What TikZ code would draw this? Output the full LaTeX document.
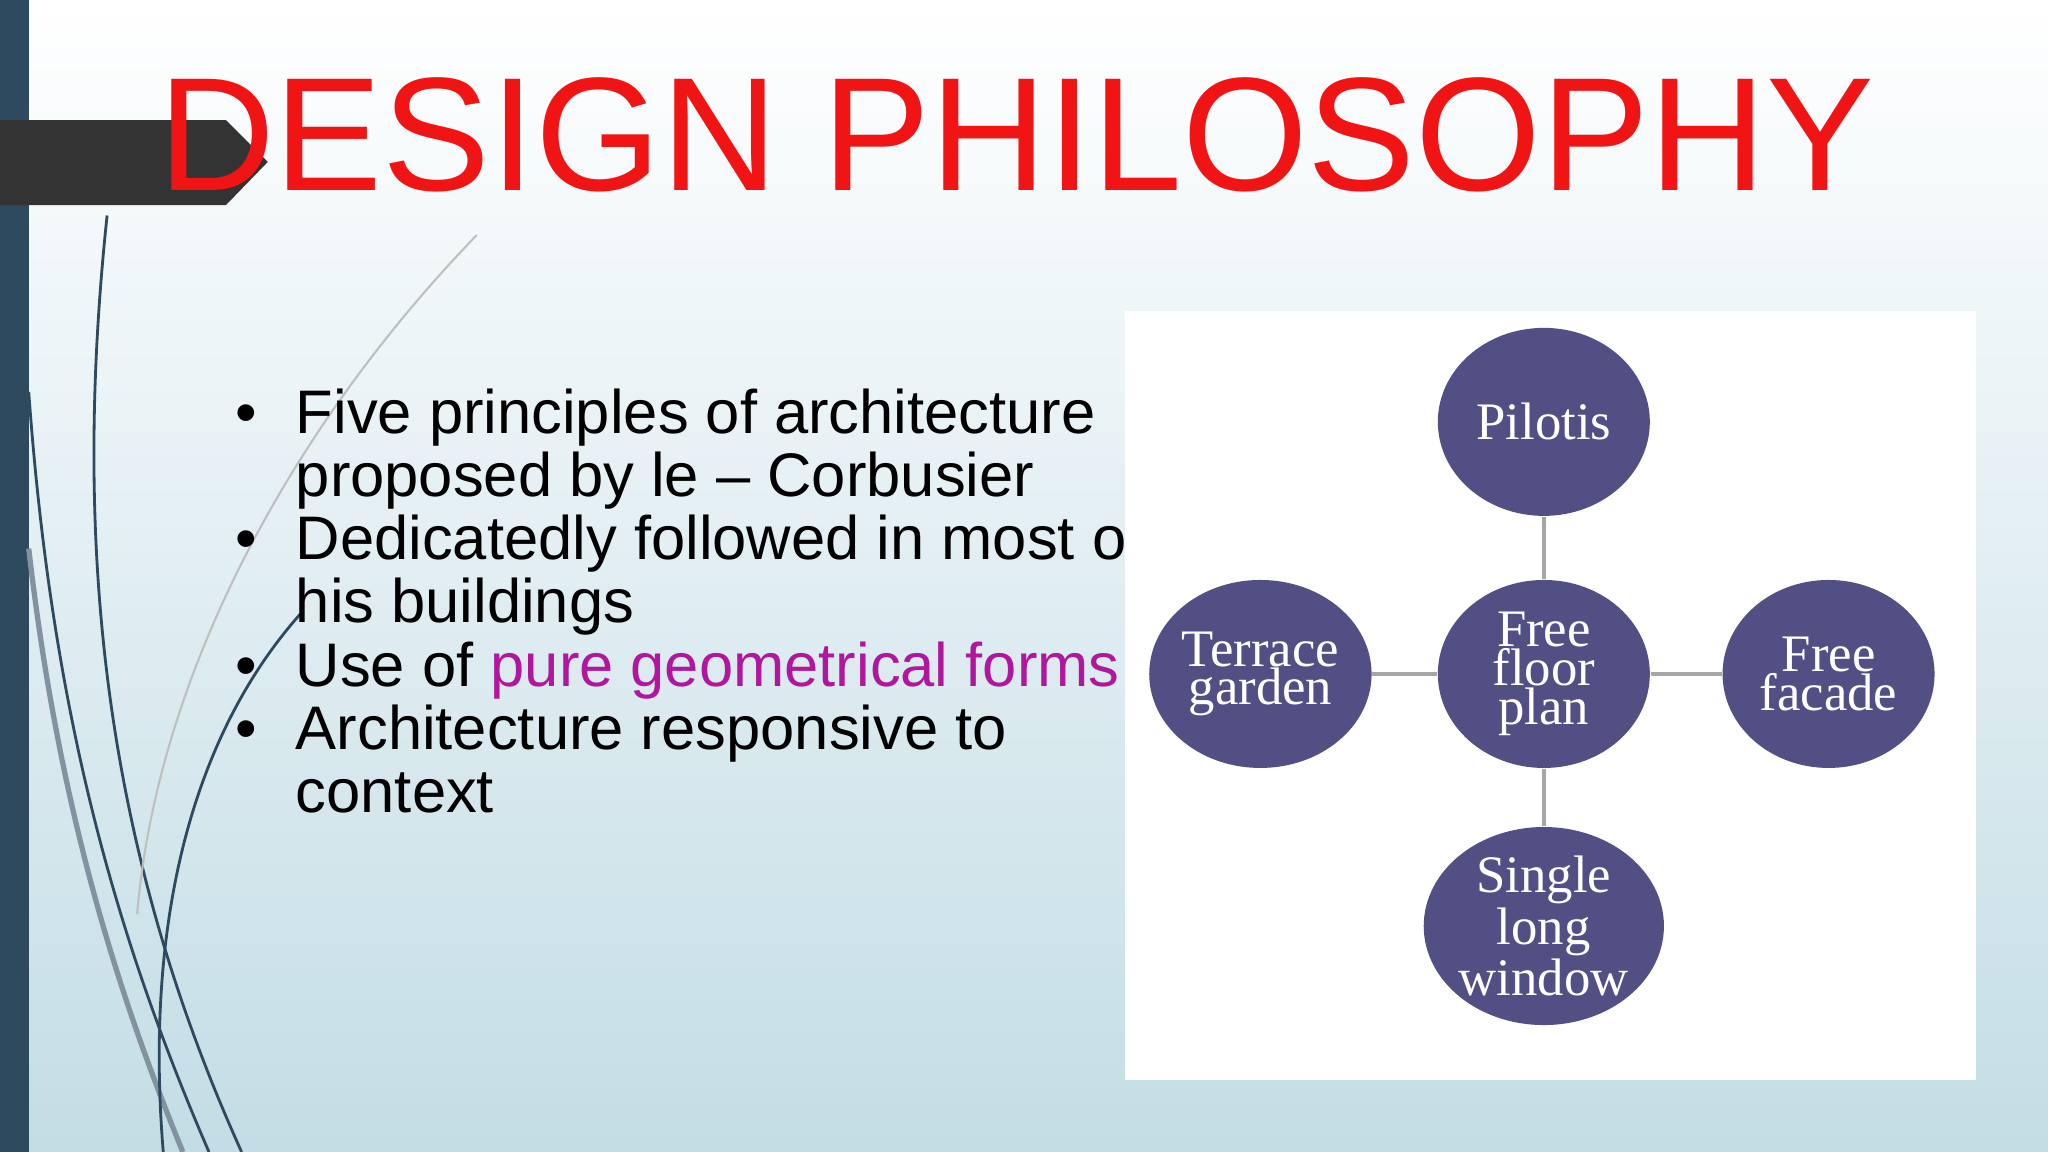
\documentclass[tikz,border=0pt]{standalone}
\usepackage{fontspec}
\setmainfont{Liberation Sans}
\newfontfamily\circfont{Liberation Serif}
\usetikzlibrary{positioning,shapes.geometric}
\definecolor{barblue}{HTML}{2E4A5E}
\definecolor{tabgrey}{HTML}{333333}
\definecolor{bgtop}{HTML}{FFFFFF}
\definecolor{bgbot}{HTML}{C3DDE5}
\definecolor{circfill}{HTML}{524F85}
\definecolor{titlered}{HTML}{F01414}
\definecolor{pink}{HTML}{B0179E}
\begin{document}
\begin{tikzpicture}[x=0.01306cm,y=-0.01306cm,
  principle/.style={ellipse, fill=circfill, minimum width=2.12cm, minimum height=1.88cm,
    text=white, align=center, font=\circfont\fontsize{15}{11}\selectfont, inner sep=0pt},
  link/.style={draw=gray!70, line width=1.2pt}
]
% background
\shade[top color=bgtop, bottom color=bgbot] (0,0) rectangle (1568,882);
\useasboundingbox (0,0) rectangle (1568,882);
\fill[barblue] (0,0) rectangle (22,882);
\fill[tabgrey] (0,92) -- (173,92) -- (205,124) -- (173,157) -- (0,157) -- cycle;
% swooshes
\draw[barblue, line width=0.8pt] (82,165) .. controls (55,420) and (80,650) .. (185,882);
\draw[barblue, line width=0.8pt] (22,300) .. controls (40,550) and (90,720) .. (160,882);
\draw[barblue!60, line width=1.5pt] (22,420) .. controls (45,620) and (90,760) .. (140,882);
\draw[gray!50, line width=0.6pt] (365,180) .. controls (220,330) and (120,520) .. (105,700);
\draw[barblue, line width=0.8pt] (230,470) .. controls (150,560) and (110,700) .. (125,882);
% title
\node[text=titlered, font=\fontsize{46}{46}\selectfont] (title) at (778,103) {DESIGN PHILOSOPHY};
% bullets
\node[anchor=north west, align=left, font=\fontsize{17.5}{18}\selectfont, inner sep=0pt]
  (bullets) at (180,297) {%
  \makebox[0.6cm][l]{\textbullet}Five principles of architecture\\
  \hspace*{0.6cm}proposed by le -- Corbusier\\
  \makebox[0.6cm][l]{\textbullet}Dedicatedly followed in most of\\
  \hspace*{0.6cm}his buildings\\
  \makebox[0.6cm][l]{\textbullet}Use of \textcolor{pink}{pure geometrical forms}\\
  \makebox[0.6cm][l]{\textbullet}Architecture responsive to\\
  \hspace*{0.6cm}context};
% diagram panel
\fill[white] (861,238) rectangle (1513,827);
\node[principle] (plan) at (1182,516) {Free\\floor\\plan};
\node[principle] (pilotis) at (1182,323) {Pilotis};
\node[principle] (terrace) at (965,516) {Terrace\\garden};
\node[principle] (facade) at (1400,516) {Free\\facade};
\node[principle] (window) at (1182,709) {Single\\long\\window};
\draw[link] (pilotis) -- (plan);
\draw[link] (terrace) -- (plan);
\draw[link] (facade) -- (plan);
\draw[link] (window) -- (plan);
\end{tikzpicture}
\end{document}
